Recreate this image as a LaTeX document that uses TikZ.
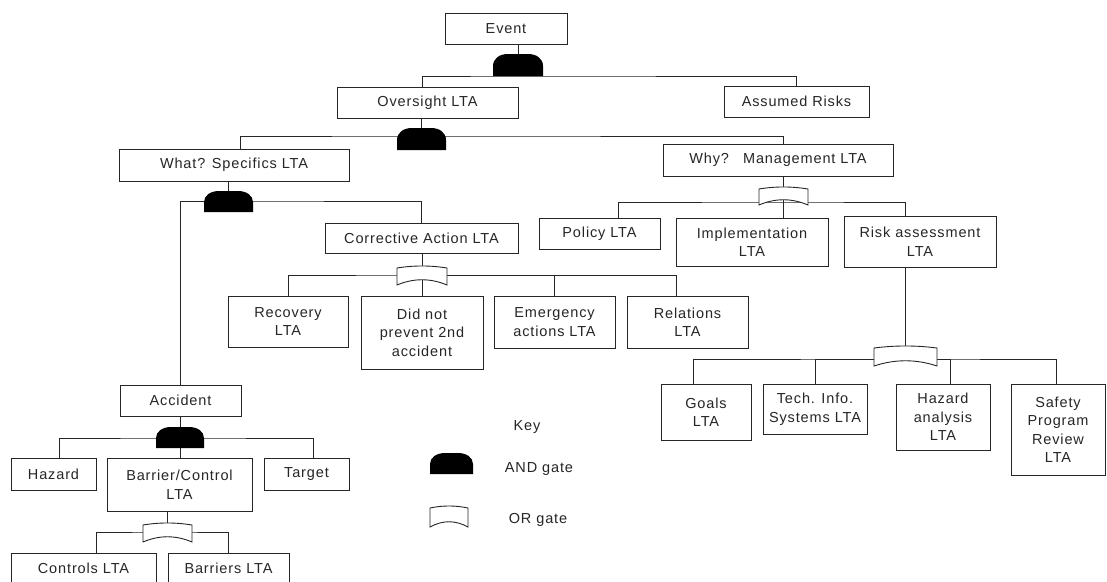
\documentclass[tikz,border=0pt]{standalone}
\usepackage{fontspec}
\newfontfamily\diafont[LetterSpace=6]{Liberation Sans}
\pgfdeclarelayer{back}
\pgfdeclarelayer{bg}
\pgfsetlayers{back,bg,main}
\colorlet{ink}{black!85}
\tikzset{
  box/.style={draw=ink, line width=0.9pt, inner sep=0pt, align=center, text=ink,
    font=\diafont\fontsize{14.5}{18.5}\selectfont},
  txt/.style={inner sep=0pt, text=ink, font=\diafont\fontsize{14.5}{18.5}\selectfont},
  conn/.style={draw=ink, line width=0.9pt},
  andfill/.style={fill=black},
  orstyle/.style={draw=ink, fill=white, line width=0.9pt},
}
% box from corners: name, x1, y1, x2, y2, text
\newcommand\BoxN[6]{%
  \pgfmathsetmacro\bw{#4-#2}\pgfmathsetmacro\bh{#5-#3}%
  \node[box, minimum width=\bw pt, minimum height=\bh pt] (#1) at ({(#2+#4)/2},{(#3+#5)/2}) {#6};}
% AND gate: name, L, T, R, B, bar y
\newcommand\AndGate[6]{%
  \fill[andfill] (#2,#5) -- (#2,#5-10) .. controls (#2,#3+4.5) and (#2+6.5,#3) .. (#2+15,#3)
    -- (#4-15,#3) .. controls (#4-6.5,#3) and (#4,#3+4.5) .. (#4,#5-10) -- (#4,#5) -- cycle;
  \coordinate (#1) at ({(#2+#4)/2},#3);
  \coordinate (#1-b) at ({(#2+#4)/2},{(#3+#5)/2});
  \coordinate (#1-m) at ({(#2+#4)/2},#6);}
% OR gate: name, L, T, R, B, bar y
\newcommand\OrGate[6]{%
  \filldraw[orstyle] (#2,#5) -- (#2,#3+2)
    .. controls ({#2+(#4-#2)/3},#3-0.7) and ({#4-(#4-#2)/3},#3-0.7) .. (#4,#3+2)
    -- (#4,#5) .. controls ({#4-(#4-#2)/3},#5-7) and ({#2+(#4-#2)/3},#5-7) .. (#2,#5) -- cycle;
  \coordinate (#1) at ({(#2+#4)/2},#3);
  \coordinate (#1-b) at ({(#2+#4)/2},{(#3+#5)/2});
  \coordinate (#1-m) at ({(#2+#4)/2},#6);}
\begin{document}
\begin{tikzpicture}[x=1pt,y=-1pt]
\useasboundingbox (0,0) rectangle (1107,581);
\clip (0,0) rectangle (1107,581);
\begin{pgfonlayer}{back}
\fill[white] (0,0) rectangle (1107,581);
\end{pgfonlayer}

% boxes
\BoxN{Event}{445}{13}{567}{44}{Event}
\BoxN{Oversight}{337}{87}{518}{118}{Oversight LTA}
\BoxN{Assumed}{724}{86}{869}{117}{Assumed Risks}
\BoxN{What}{119}{149}{349}{181}{What? Specifics LTA}
\BoxN{Why}{663}{144}{893}{176}{Why?\hspace{14pt}Management LTA}
\BoxN{Policy}{539}{218}{660}{249}{Policy LTA}
\BoxN{Impl}{676}{218}{828}{266}{Implementation\\LTA}
\BoxN{Risk}{844}{216}{996}{267}{Risk assessment\\LTA}
\BoxN{Corrective}{325}{223}{518}{253}{Corrective Action LTA}
\BoxN{Recovery}{228}{296}{348}{347}{Recovery\\LTA}
\BoxN{Didnot}{361}{296}{483}{369}{Did not\\prevent 2nd\\accident}
\BoxN{Emergency}{494}{296}{615}{348}{Emergency\\actions LTA}
\BoxN{Relations}{627}{296}{748}{348}{Relations\\LTA}
\BoxN{Accident}{120}{385}{241}{416}{Accident}
\BoxN{Hazard}{11}{458}{96}{490}{Hazard}
\BoxN{Barrier}{107}{458}{252}{511}{Barrier/Control\\LTA}
\BoxN{Target}{264}{458}{349}{490}{Target}
\BoxN{Controls}{11}{553}{156}{583}{Controls LTA}
\BoxN{Barriers}{168}{553}{289}{583}{Barriers LTA}
\BoxN{Goals}{661}{384}{751}{440}{Goals\\LTA}
\BoxN{Tech}{763}{384}{867}{434}{Tech. Info.\\Systems LTA}
\BoxN{HazAn}{896}{384}{990}{450}{Hazard\\analysis\\LTA}
\BoxN{Safety}{1011}{384}{1105}{475}{Safety\\Program\\Review\\LTA}

% gates
\AndGate{g1}{493}{54}{543}{76}{76}
\AndGate{g2}{397}{128}{446}{150}{136}
\AndGate{g3}{204}{191}{253}{212}{201}
\OrGate{g4}{397}{266}{447}{285}{275}
\OrGate{g5}{759}{187}{808}{205}{202}
\OrGate{g6}{874}{346}{937}{366}{359}
\AndGate{g7}{156}{427}{204}{448}{438}
\OrGate{g8}{143}{523}{192}{542}{532}
\AndGate{keyand}{430}{453}{473}{474}{474}
\OrGate{keyor}{430}{506}{468}{527}{527}

% key labels
\node[txt] (keylabel) at (527,427) {Key};
\node[txt] (andlabel) at (539,469) {AND gate};
\node[txt] (orlabel) at (538,520) {OR gate};

% connectors
\begin{pgfonlayer}{bg}
\draw[conn] (g1) -- (g1 |- Event.south);
\draw[conn] ([xshift=-5.5pt]Oversight.north) |- (g1-m) -| (Assumed.north);
\draw[conn] (g2) -- (g2 |- Oversight.south);
\draw[conn] ([xshift=6pt]What.north) |- (g2-m) -| ([xshift=5pt]Why.north);
\draw[conn] (g3) -- (g3 |- What.south);
\draw[conn] (Accident.north) |- (g3-m) -| (Corrective.north);
\draw[conn] (g4) -- (g4 |- Corrective.south);
\draw[conn] (Recovery.north) |- (g4-m) -| ([xshift=-11.5pt]Relations.north);
\draw[conn] (Emergency.north) |- (g4-m);
\draw[conn] (g4-b) -- (g4-b |- Didnot.north);
\draw[conn] (g5) -- (g5 |- Why.south);
\draw[conn] ([xshift=18.5pt]Policy.north) |- (g5-m) -| ([xshift=-15pt]Risk.north);
\draw[conn] (g5-b) -- (g5-b |- Impl.north);
\draw[conn] (g6) -- (g6 |- Risk.south);
\draw[conn] ([xshift=-13pt]Goals.north) |- (g6-m) -| ([xshift=-2pt]Safety.north);
\draw[conn] (Tech.north) |- (g6-m);
\draw[conn] ([xshift=7pt]HazAn.north) |- (g6-m);
\draw[conn] (g7) -- (g7 |- Accident.south);
\draw[conn] ([xshift=5.5pt]Hazard.north) |- (g7-m) -| ([xshift=6.5pt]Target.north);
\draw[conn] (g7-b) -- (g7-b |- Barrier.north);
\draw[conn] (g8) -- (g8 |- Barrier.south);
\draw[conn] ([xshift=12.5pt]Controls.north) |- (g8-m) -| (Barriers.north);
\end{pgfonlayer}
\end{tikzpicture}
\end{document}
